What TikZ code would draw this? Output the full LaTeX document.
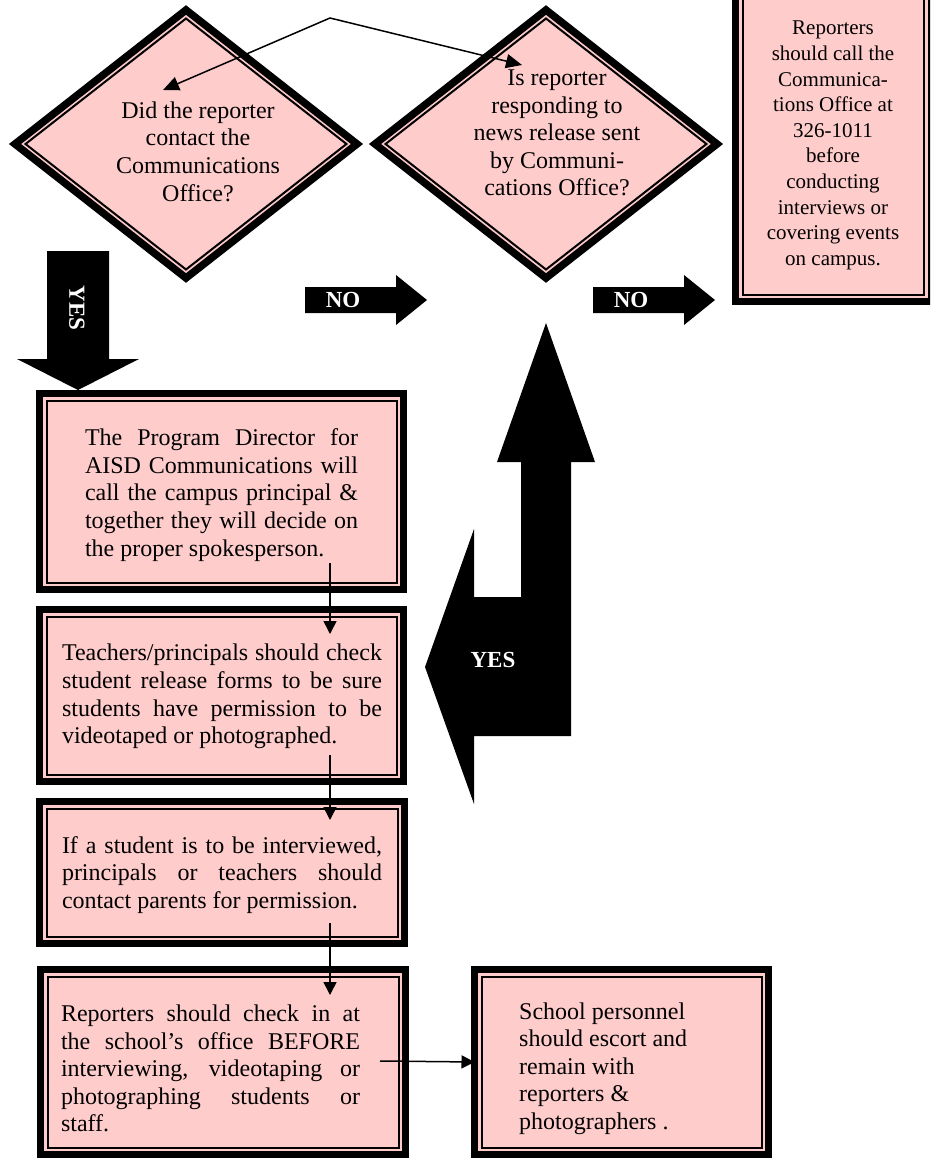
\documentclass[tikz,border=0pt]{standalone}
\usepackage{fontspec}
\setmainfont{Liberation Serif}
\usetikzlibrary{arrows.meta,shapes.geometric}
\definecolor{pk}{RGB}{255,204,204}
\newcommand{\jl}[2]{\makebox[#1][s]{#2}}
\begin{document}
\begin{tikzpicture}[x=1pt,y=-1pt,
  boxnode/.style={rectangle,draw=black,fill=pk,line width=7pt,inner sep=0pt,outer sep=0pt},
  dianode/.style={diamond,draw=black,fill=pk,line width=7.5pt,inner sep=0pt,outer sep=0pt,minimum width=342pt,minimum height=268pt},
  innerline/.style={draw=black,line width=2pt},
  txt/.style={font=\fontsize{24}{27.6}\selectfont,inner sep=0pt},
  blk/.style={fill=black},
  lbl/.style={text=white,font=\fontsize{23}{26}\selectfont\bfseries,inner sep=0pt},
  conn/.style={line width=1.5pt,-{Triangle[length=13pt,width=13pt]}},
  conntwo/.style={line width=1.5pt,{Triangle[length=16pt,width=14pt]}-{Triangle[length=16pt,width=14pt]}},
]
\path[use as bounding box] (0,0) rectangle (930,1159);
\clip (0,0) rectangle (930,1159);

% diamonds
\node[dianode] (d1) at (186,144) {};
\node[dianode] (d2) at (546,144) {};
\draw[innerline] ([shift={(0,8.5)}]d1.north) -- ([shift={(-10.5,0)}]d1.east) -- ([shift={(0,-8.5)}]d1.south) -- ([shift={(10.5,0)}]d1.west) -- cycle;
\draw[innerline] ([shift={(0,8.5)}]d2.north) -- ([shift={(-10.5,0)}]d2.east) -- ([shift={(0,-8.5)}]d2.south) -- ([shift={(10.5,0)}]d2.west) -- cycle;
\node[txt,align=center] (d1t) at (198,151.5) {Did the reporter\\contact the\\Communications\\Office?};
\node[txt,align=center] (d2t) at (557,133) {Is reporter\\responding to\\news release sent\\by Communi-\\cations Office?};

% right box
\node[boxnode,minimum width=195.5pt,minimum height=313pt] (rb) at (833.25,145) {};
\node[inner sep=0pt,align=center,font=\fontsize{21}{25.6}\selectfont] (rbt) at (833,145.5) {Reporters\\should call the\\Communica-\\tions Office at\\326-1011\\before\\conducting\\interviews or\\covering events\\on campus.};

% left column boxes
\node[boxnode,minimum width=364pt,minimum height=196pt] (b1) at (221.5,491.5) {};
\node[boxnode,minimum width=364pt,minimum height=172pt] (b2) at (221.5,695.5) {};
\node[boxnode,minimum width=365pt,minimum height=142pt] (b3) at (222,872.5) {};
\node[boxnode,minimum width=365pt,minimum height=185pt] (b4) at (223,1062) {};
\node[boxnode,minimum width=294pt,minimum height=185pt] (b5) at (621.5,1062) {};
\foreach \n in {b1,b2,b3,b4,b5,rb}
  \draw[innerline] ([shift={(7,7)}]\n.north west) rectangle ([shift={(-7,-7)}]\n.south east);

\node[txt,align=left] (b1t) at (221.5,495) {\jl{273pt}{The Program Director for}\\\jl{273pt}{AISD Communications will}\\\jl{273pt}{call the campus principal \&}\\\jl{273pt}{together they will decide on}\\the proper spokesperson.};
\node[txt,align=left] (b2t) at (222,696.5) {\jl{320pt}{Teachers/principals should check}\\\jl{320pt}{student release forms to be sure}\\\jl{320pt}{students have permission to be}\\videotaped or photographed.};
\node[txt,align=left] (b3t) at (222,875) {\jl{320pt}{If a student is to be interviewed,}\\\jl{320pt}{principals or teachers should}\\contact parents for permission.};
\node[txt,align=left] (b4t) at (210.5,1068.5) {\jl{299pt}{Reporters should check in at}\\\jl{299pt}{the school’s office BEFORE}\\\jl{299pt}{interviewing, videotaping or}\\\jl{299pt}{photographing students or}\\staff.};
\node[txt,align=left,anchor=west] (b5t) at (519,1068.5) {School personnel\\should escort and\\remain with\\reporters \&\\photographers .};

% block arrows
\fill[blk] (47,251) -- (109,251) -- (109,359) -- (139,359) -- (78,390) -- (17,359) -- (47,359) -- cycle;
\node[lbl,rotate=-90] (yes1) at (77,308) {YES};
\fill[blk] (305,287) -- (396,287) -- (396,275) -- (427,300) -- (396,325) -- (396,313) -- (305,313) -- cycle;
\node[lbl] (no1) at (343,300) {NO};
\fill[blk] (593,287) -- (684,287) -- (684,275) -- (715,300) -- (684,325) -- (684,313) -- (593,313) -- cycle;
\node[lbl] (no2) at (631,300) {NO};
\fill[blk] (546,323) -- (595,462) -- (571,462) -- (571,736) -- (474,736) -- (474,804) -- (425,667) -- (474,529) -- (474,597) -- (521,597) -- (521,462) -- (497,462) -- cycle;
\node[lbl] (yes2) at (493,660) {YES};

% connectors
\coordinate (apex) at (330,18);
\draw[conntwo] ([shift={(-23,-54)}]d1.center) -- (apex) -- ([shift={(-24,-79)}]d2.center);
\draw[conn] ([shift={(108.5,71.5)}]b1.center) -- ([shift={(108.5,-61.5)}]b2.center);
\draw[conn] ([shift={(108.5,59.5)}]b2.center) -- ([shift={(108,-52.5)}]b3.center);
\draw[conn] ([shift={(108,50.5)}]b3.center) -- ([shift={(107,-67)}]b4.center);
\draw[conn] ([shift={(157,-1)}]b4.center) -- (b5.west);
\end{tikzpicture}
\end{document}
